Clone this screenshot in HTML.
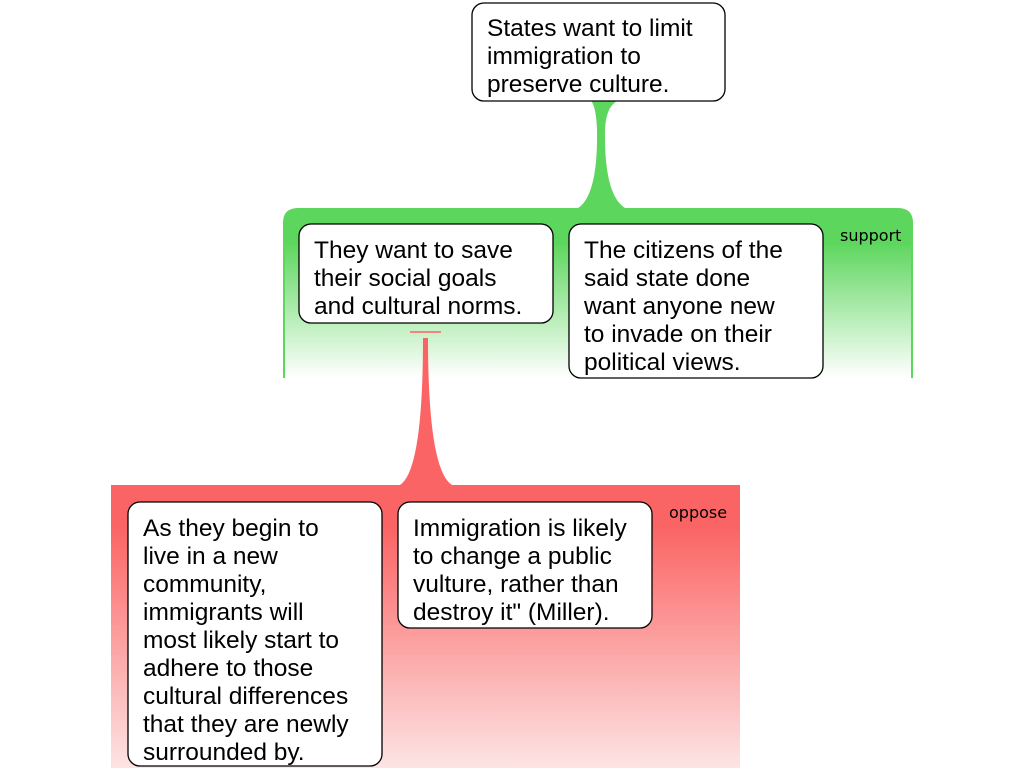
<!DOCTYPE html>
<html><head><style>
body{margin:0;background:#fff;}
svg{display:block;}
text{font-family:"Liberation Sans",sans-serif;font-size:24.5px;fill:#000;}
.s{font-family:"DejaVu Sans",sans-serif;font-size:16px;}
</style></head><body>
<svg width="1024" height="768" viewBox="0 0 1024 768">
<defs>
<linearGradient id="g" x1="0" y1="208" x2="0" y2="378" gradientUnits="userSpaceOnUse">
<stop offset="0" stop-color="#5cd65c"/><stop offset="0.2" stop-color="#5cd65c"/><stop offset="1" stop-color="#ffffff"/>
</linearGradient>
<linearGradient id="r" x1="0" y1="485" x2="0" y2="768" gradientUnits="userSpaceOnUse">
<stop offset="0" stop-color="#fb6464"/><stop offset="0.15" stop-color="#fb6464"/><stop offset="1" stop-color="#fde4e4"/>
</linearGradient>
</defs>
<path d="M283 378 V223 Q283 208 298 208 H898 Q913 208 913 223 V378 Z" fill="url(#g)"/>
<line x1="284" y1="230" x2="284" y2="378" stroke="#5cd65c" stroke-width="2"/>
<line x1="912" y1="230" x2="912" y2="378" stroke="#5cd65c" stroke-width="2"/>
<path d="M590 100 H620 Q606 104 605 130 Q604 195 625 208 H578 Q598 195 597 130 Q596 104 590 100 Z" fill="#5cd65c"/>
<text class="s" x="840" y="241">support</text>
<rect x="111" y="485" width="629" height="283" fill="url(#r)"/>
<line x1="410" y1="332" x2="441" y2="332" stroke="#fb6464" stroke-width="1.5"/>
<path d="M423 338 H428 Q428 470 452 485 H400 Q423 470 423 338 Z" fill="#fb6464"/>
<text class="s" x="669" y="518">oppose</text>
<g fill="#fff" stroke="#000" stroke-width="1.3">
<rect x="472" y="3" width="253" height="98" rx="12"/>
<rect x="299" y="224" width="254" height="99" rx="12"/>
<rect x="569" y="224" width="254" height="154" rx="12"/>
<rect x="128" y="502" width="254" height="264" rx="12"/>
<rect x="398" y="502" width="254" height="126" rx="12"/>
</g>
<text x="487" y="36">States want to limit</text>
<text x="487" y="64">immigration to</text>
<text x="487" y="92">preserve culture.</text>
<text x="314" y="258">They want to save</text>
<text x="314" y="286">their social goals</text>
<text x="314" y="314">and cultural norms.</text>
<text x="584" y="258">The citizens of the</text>
<text x="584" y="286">said state done</text>
<text x="584" y="314">want anyone new</text>
<text x="584" y="342">to invade on their</text>
<text x="584" y="370">political views.</text>
<text x="143" y="536">As they begin to</text>
<text x="143" y="564">live in a new</text>
<text x="143" y="592">community,</text>
<text x="143" y="620">immigrants will</text>
<text x="143" y="648">most likely start to</text>
<text x="143" y="676">adhere to those</text>
<text x="143" y="704">cultural differences</text>
<text x="143" y="732">that they are newly</text>
<text x="143" y="760">surrounded by.</text>
<text x="413" y="536">Immigration is likely</text>
<text x="413" y="564">to change a public</text>
<text x="413" y="592">vulture, rather than</text>
<text x="413" y="620">destroy it" (Miller).</text>
</svg>
</body></html>
